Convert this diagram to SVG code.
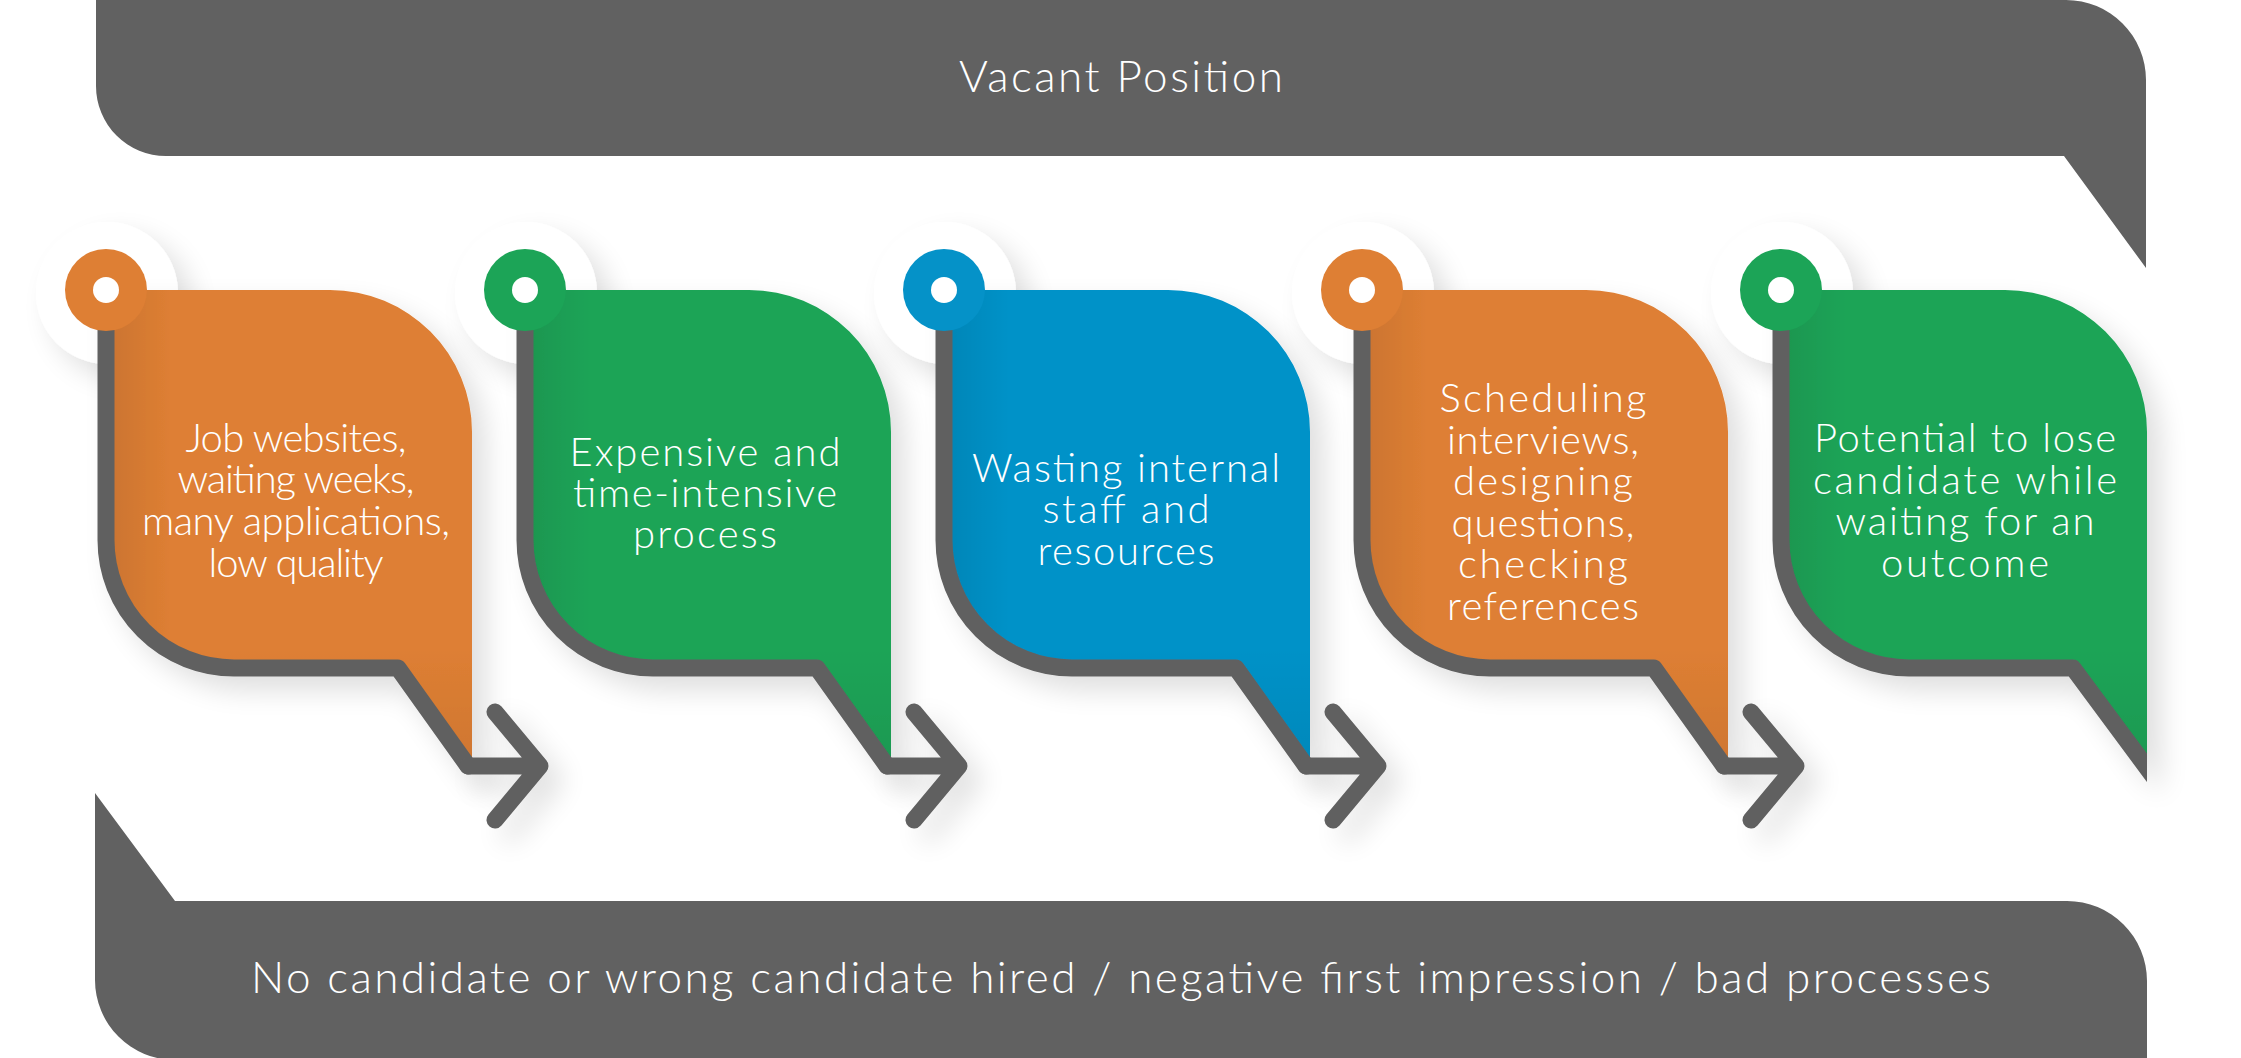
<svg xmlns="http://www.w3.org/2000/svg" xmlns:xlink="http://www.w3.org/1999/xlink" width="2241" height="1058" viewBox="0 0 2241 1058">
<style>
.band{fill:#616161}
.bt{font-family:Lato,"Liberation Sans",sans-serif;font-weight:300;fill:#ffffff;text-anchor:middle}
.ttl{font-size:44px}
.nt{font-size:40px}
.out{fill:none;stroke:#616161;stroke-width:17;stroke-linecap:round;stroke-linejoin:round}
.halo{fill:#ffffff}
.hole{fill:#ffffff}
.orange{fill:#DE7F34}
.green{fill:#1CA457}
.blue{fill:#0592C8}
</style>
<defs>
<filter id="sh" x="-30%" y="-30%" width="170%" height="170%">
<feGaussianBlur in="SourceAlpha" stdDeviation="14"/>
<feOffset dx="14" dy="14"/>
<feComponentTransfer><feFuncA type="linear" slope="0.13"/></feComponentTransfer>
<feMerge><feMergeNode/><feMergeNode in="SourceGraphic"/></feMerge>
</filter>
<linearGradient id="shadeL" x1="0" y1="0" x2="1" y2="0">
<stop offset="0" stop-color="#000" stop-opacity="0.09"/>
<stop offset="0.18" stop-color="#000" stop-opacity="0"/>
</linearGradient>
<linearGradient id="shadeB" x1="0" y1="0" x2="0" y2="1">
<stop offset="0.75" stop-color="#000" stop-opacity="0"/>
<stop offset="1" stop-color="#000" stop-opacity="0.07"/>
</linearGradient>
<clipPath id="clip5"><rect x="-60" y="200" width="426" height="620"/></clipPath>
<path id="bubble" d="M0,290 H224 A142,142 0 0 1 366,432 V766 H362 L292,668 H128 A128,128 0 0 1 0,540 Z"/>
<path id="outline" d="M0,290 V540 A128,128 0 0 0 128,668 H292 L362,766"/>
</defs>

<g id="top-band">
<path class="band" d="M96,0 H2066 A80,80 0 0 1 2146,80 V268 L2064,156 H166 A70,70 0 0 1 96,86 Z"/>
<text class="bt ttl" x="1121" y="92" textLength="324">Vacant Position</text>
</g>

<g id="bottom-band">
<path class="band" d="M95,793 L175,901 H2067 A80,80 0 0 1 2147,981 V1060 H175 A80,80 0 0 1 95,980 Z"/>
<text class="bt ttl" x="1121" y="993" textLength="1740">No candidate or wrong candidate hired / negative first impression / bad processes</text>
</g>

<g id="node1" transform="translate(106,0)">
<circle class="halo" cx="1" cy="293" r="71" filter="url(#sh)"/>
<g filter="url(#sh)">
<use xlink:href="#bubble" class="orange"/>
<use xlink:href="#bubble" fill="url(#shadeL)"/>
<use xlink:href="#bubble" fill="url(#shadeB)"/>
<use xlink:href="#outline" class="out"/>
</g>
<circle class="orange" cx="0" cy="290" r="41"/>
<circle class="hole" cx="0" cy="290" r="13"/>
<text class="bt nt" x="190"><tspan x="190" y="452" textLength="221">Job websites,</tspan><tspan x="190" y="493" textLength="237">waiting weeks,</tspan><tspan x="190" y="535" textLength="308">many applications,</tspan><tspan x="190" y="577" textLength="175">low quality</tspan></text>
</g>

<g id="node2" transform="translate(525,0)">
<circle class="halo" cx="1" cy="293" r="71" filter="url(#sh)"/>
<g filter="url(#sh)">
<use xlink:href="#bubble" class="green"/>
<use xlink:href="#bubble" fill="url(#shadeL)"/>
<use xlink:href="#bubble" fill="url(#shadeB)"/>
<use xlink:href="#outline" class="out"/>
</g>
<circle class="green" cx="0" cy="290" r="41"/>
<circle class="hole" cx="0" cy="290" r="13"/>
<text class="bt nt" x="180"><tspan x="180" y="466" textLength="271">Expensive and</tspan><tspan x="180" y="507" textLength="264">time-intensive</tspan><tspan x="180" y="548" textLength="144">process</tspan></text>
</g>

<g id="node3" transform="translate(944,0)">
<circle class="halo" cx="1" cy="293" r="71" filter="url(#sh)"/>
<g filter="url(#sh)">
<use xlink:href="#bubble" class="blue"/>
<use xlink:href="#bubble" fill="url(#shadeL)"/>
<use xlink:href="#bubble" fill="url(#shadeB)"/>
<use xlink:href="#outline" class="out"/>
</g>
<circle class="blue" cx="0" cy="290" r="41"/>
<circle class="hole" cx="0" cy="290" r="13"/>
<text class="bt nt" x="182"><tspan x="182" y="482" textLength="308">Wasting internal</tspan><tspan x="182" y="523" textLength="167">staff and</tspan><tspan x="182" y="565" textLength="177">resources</tspan></text>
</g>

<g id="node4" transform="translate(1362,0)">
<circle class="halo" cx="1" cy="293" r="71" filter="url(#sh)"/>
<g filter="url(#sh)">
<use xlink:href="#bubble" class="orange"/>
<use xlink:href="#bubble" fill="url(#shadeL)"/>
<use xlink:href="#bubble" fill="url(#shadeB)"/>
<use xlink:href="#outline" class="out"/>
</g>
<circle class="orange" cx="0" cy="290" r="41"/>
<circle class="hole" cx="0" cy="290" r="13"/>
<text class="bt nt" x="181"><tspan x="181" y="412" textLength="207">Scheduling</tspan><tspan x="181" y="453.5" textLength="192">interviews,</tspan><tspan x="181" y="495" textLength="180">designing</tspan><tspan x="181" y="536.5" textLength="183">questions,</tspan><tspan x="181" y="578" textLength="170">checking</tspan><tspan x="181" y="619.5" textLength="192">references</tspan></text>
</g>

<g id="node5" transform="translate(1781,0)">
<circle class="halo" cx="1" cy="293" r="71" filter="url(#sh)"/>
<g filter="url(#sh)">
<use xlink:href="#bubble" class="green"/>
<use xlink:href="#bubble" fill="url(#shadeL)"/>
<use xlink:href="#bubble" fill="url(#shadeB)"/>
<path class="out" clip-path="url(#clip5)" d="M0,290 V540 A128,128 0 0 0 128,668 H292 L372,776"/>
</g>
<circle class="green" cx="0" cy="290" r="41"/>
<circle class="hole" cx="0" cy="290" r="13"/>
<text class="bt nt" x="184"><tspan x="184" y="452" textLength="302">Potential to lose</tspan><tspan x="184" y="494" textLength="304">candidate while</tspan><tspan x="184" y="535" textLength="259">waiting for an</tspan><tspan x="184" y="577" textLength="168">outcome</tspan></text>
</g>

<g id="connectors" filter="url(#sh)">
<path class="out" d="M468,766 H540 M495,712 L540,766 L495,820"/>
<path class="out" d="M887,766 H959 M914,712 L959,766 L914,820"/>
<path class="out" d="M1306,766 H1378 M1333,712 L1378,766 L1333,820"/>
<path class="out" d="M1724,766 H1796 M1751,712 L1796,766 L1751,820"/>
</g>
</svg>
